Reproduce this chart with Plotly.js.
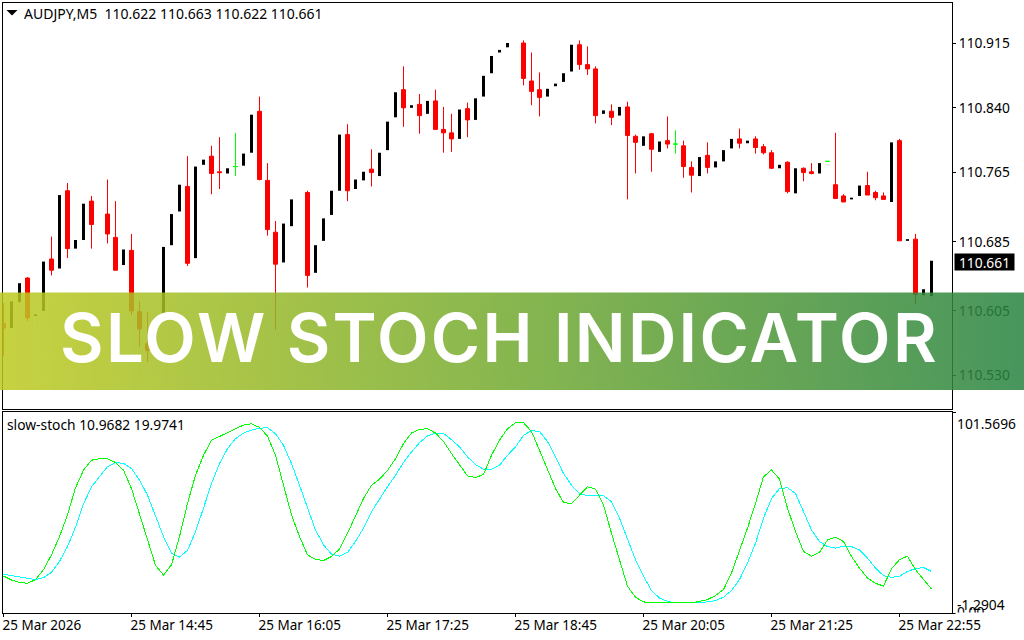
<!DOCTYPE html>
<html>
<head>
<meta charset="utf-8">
<script src="https://cdn.plot.ly/plotly-3.0.1.min.js"></script>
<style>
html,body{margin:0;padding:0;background:#fff;overflow:hidden}#c{width:1024px;height:640px}
.scatterlayer path.js-line{shape-rendering:crispEdges}
.annotation[data-index="7"] text{letter-spacing:2.3px}
</style>
</head>
<body>
<div id="c"></div>
<script>
// candle values, one per 5 minute bar (null = no visible bar)
const open = [110.590,110.585,110.615,110.643,110.599,110.605,110.665,110.654,110.744,110.677,
110.687,110.732,null,110.717,110.690,110.658,110.675,110.604,110.567,110.563,
110.601,110.681,110.720,110.749,110.666,110.774,110.784,110.766,110.764,110.772,
110.773,110.788,110.836,110.756,110.696,110.661,110.703,null,110.742,110.649,
110.686,110.716,110.744,110.809,110.746,110.756,110.769,110.761,110.791,110.829,
110.861,110.840,110.844,110.833,110.848,110.815,110.811,110.804,110.839,110.826,
110.853,110.880,110.904,110.910,null,110.915,110.871,110.861,110.853,110.865,
110.870,110.882,110.913,110.890,110.885,110.833,110.836,110.831,110.841,110.807,
110.796,110.810,110.789,110.802,110.798,110.796,110.771,110.761,110.785,110.771,
110.778,110.793,110.804,110.799,110.804,110.795,110.788,110.770,110.777,110.741,
110.770,110.766,110.764,110.778,110.751,110.738,110.734,110.738,110.750,110.742,
110.738,110.731,110.802,110.686,110.688,110.623,110.622];
const high = [110.614,110.616,110.637,110.644,110.601,110.662,110.691,110.739,110.753,110.687,
110.729,110.738,null,110.757,110.732,110.676,110.694,110.616,110.604,110.584,
110.679,110.717,110.751,110.784,110.772,110.780,110.796,110.806,110.770,110.811,
110.787,110.832,110.853,110.776,110.709,110.706,110.734,null,110.744,110.681,
110.712,110.744,110.809,110.821,110.757,110.766,110.792,110.788,110.824,110.858,
110.888,110.843,110.856,110.848,110.861,110.841,110.833,110.838,110.846,110.851,
110.877,110.900,110.907,110.915,null,110.918,110.904,110.881,110.862,110.868,
110.880,110.913,110.918,110.911,110.888,110.837,110.844,110.841,110.847,110.809,
110.807,110.811,110.801,110.830,110.814,110.802,110.778,110.783,110.800,110.778,
110.791,110.804,110.816,110.802,110.807,110.798,110.791,110.774,110.778,110.770,
110.771,110.776,110.776,110.778,110.811,110.740,110.736,110.750,110.766,110.744,
110.742,110.800,110.804,110.688,110.694,110.630,110.663];
const low = [110.553,110.585,110.615,110.593,110.599,110.605,110.646,110.654,110.666,110.677,
110.687,110.677,null,110.683,110.652,110.658,110.600,110.564,110.546,110.563,
110.601,110.681,110.720,110.657,110.666,110.774,110.740,110.746,110.764,110.761,
110.773,110.788,110.756,110.692,110.583,110.661,110.703,null,110.632,110.649,
110.686,110.716,110.744,110.732,110.746,110.756,110.749,110.761,110.791,110.829,
110.818,110.840,110.810,110.833,110.815,110.788,110.789,110.804,110.806,110.826,
110.853,110.880,110.904,110.910,null,110.866,110.843,110.830,110.853,110.865,
110.870,110.882,110.884,110.878,110.822,110.833,110.820,110.831,110.734,110.764,
110.796,110.766,110.789,110.793,110.787,110.759,110.742,110.761,110.764,110.771,
110.778,110.793,110.793,110.799,110.787,110.786,110.769,110.770,110.741,110.741,
110.755,110.763,110.764,110.778,110.735,110.731,110.734,110.738,110.739,110.733,
110.734,110.731,110.686,110.686,110.613,110.623,110.622];
const close = [110.585,110.616,110.637,110.597,110.601,110.662,110.652,110.739,110.677,110.687,
110.729,110.705,null,110.694,110.652,110.676,110.605,110.584,110.559,110.584,
110.679,110.717,110.751,110.660,110.772,110.780,110.764,110.765,110.770,110.772,
110.787,110.832,110.757,110.699,110.659,110.706,110.734,null,110.646,110.681,
110.712,110.744,110.809,110.744,110.757,110.766,110.765,110.788,110.824,110.858,
110.840,110.843,110.831,110.848,110.815,110.811,110.804,110.838,110.826,110.851,
110.877,110.900,110.907,110.915,null,110.874,110.859,110.852,110.862,110.868,
110.880,110.913,110.890,110.885,110.831,110.837,110.829,110.841,110.808,110.800,
110.807,110.792,110.801,110.798,110.798,110.772,110.762,110.783,110.771,110.778,
110.791,110.804,110.799,110.802,110.794,110.788,110.770,110.774,110.743,110.770,
110.765,110.764,110.776,110.778,110.735,110.731,110.736,110.750,110.739,110.736,
110.734,110.800,110.686,110.688,110.624,110.630,110.661];
const stochMain = [17.6,15.6,14.4,13.9,15.8,20.9,28.5,37.8,48.9,62.8,71.8,76.9,77.7,77.7,75.7,71.8,62.4,48.9,35.3,23.1,
18.1,23.4,37.8,54.8,69.2,79.4,87.1,89.1,91.0,92.8,94.9,95.5,93.7,89.3,79.4,64.1,48.9,37.8,28.5,26.1,
25.6,27.6,31.5,39.5,48.4,57.3,64.1,67.2,71.6,77.7,85.4,90.8,92.7,93.0,90.8,86.5,80.3,74.3,68.9,68.0,
69.6,79.4,87.1,93.0,96.1,96.1,91.6,82.0,71.8,62.4,55.3,54.6,59.0,63.3,62.1,54.0,39.5,26.0,12.4,6.8,
4.4,3.9,3.9,3.9,3.9,3.9,3.9,4.6,5.6,7.6,10.7,19.2,30.2,42.1,54.8,68.4,71.9,67.2,52.3,40.4,
30.2,27.8,29.7,36.1,37.5,35.3,27.6,21.7,16.6,13.9,12.5,21.4,26.0,27.8,20.9,15.8,10.9682];
const stochSignal = [18.5,17.8,17.1,16.3,15.8,16.8,19.5,25.1,32.7,42.6,54.5,63.3,68.4,73.6,75.7,75.3,72.6,66.7,59.0,48.9,
37.8,29.3,27.3,30.7,40.4,52.3,65.0,75.2,82.8,87.9,90.8,92.3,93.3,93.5,90.5,84.5,75.2,64.1,52.3,41.2,
33.6,28.8,27.8,29.7,35.3,42.1,50.6,57.3,63.3,69.2,75.7,81.1,85.9,89.3,90.8,90.6,87.4,83.7,78.6,74.7,
72.3,72.3,74.3,79.4,83.7,89.6,92.0,91.6,86.5,78.6,70.1,64.1,59.9,58.7,59.0,58.7,55.7,47.2,37.0,26.0,
17.5,10.2,6.4,4.7,3.9,3.9,3.9,4.0,4.4,5.1,6.8,10.2,15.8,24.3,34.4,47.2,57.3,62.4,62.8,59.9,
50.6,41.2,35.3,32.7,31.9,32.9,32.7,31.0,26.8,21.7,17.8,17.0,17.5,20.0,21.4,22.0,19.9741];
const xTickBars = [0,16,32,48,64,80,96,112];
const xTickLabels = ['25 Mar 2026','25 Mar 14:45','25 Mar 16:05','25 Mar 17:25','25 Mar 18:45','25 Mar 20:05','25 Mar 21:25','25 Mar 22:55'];
const priceTicks = [110.915,110.840,110.765,110.685,110.605,110.530];
const priceTickLabels = ['110.915','110.840','110.765','110.685','110.605','110.530'];
const stochMax = 101.5696, stochMin = -1.2904;
const lastPrice = '110.661';
const headerText = 'AUDJPY,M5\u00a0\u00a0110.622 110.663 110.622 110.661';
const stochText = 'slow-stoch 10.9682 19.9741';
const bannerText = 'SLOW STOCH INDICATOR';
const bannerStops = ['rgb(190,202,32)','rgb(115,170,49)','rgb(40,132,65)'];

const bars = open.map((_, i) => i);
const pick = test => bars.filter(i => open[i] !== null && test(i));
const upBars = pick(i => close[i] > open[i]);
const downBars = pick(i => close[i] < open[i]);
const flatBars = pick(i => close[i] === open[i]);
const candle = (idx, color) => ({
  type: 'candlestick', xaxis: 'x', yaxis: 'y', hoverinfo: 'skip', showlegend: false,
  x: idx, open: idx.map(i => open[i]), high: idx.map(i => high[i]), low: idx.map(i => low[i]), close: idx.map(i => close[i]),
  increasing: {line: {color, width: 1}, fillcolor: color},
  decreasing: {line: {color, width: 1}, fillcolor: color}
});
const traces = [
  {type: 'bar', xaxis: 'x', yaxis: 'y', x: upBars, base: upBars.map(i => low[i]), y: upBars.map(i => high[i] - low[i]),
   width: 0.375, marker: {color: '#000000', line: {width: 0}}, hoverinfo: 'skip', showlegend: false},
  candle(downBars, '#ff0000'),
  candle(flatBars, '#00ff00'),
  {type: 'scatter', mode: 'lines', xaxis: 'x2', yaxis: 'y2', x: bars, y: stochSignal, line: {color: '#00ffff', width: 1}, hoverinfo: 'skip', showlegend: false},
  {type: 'scatter', mode: 'lines', xaxis: 'x2', yaxis: 'y2', x: bars, y: stochMain, line: {color: '#00ff00', width: 1}, hoverinfo: 'skip', showlegend: false}
];

const W = 1024, H = 640;
const px = v => v / W, py = v => 1 - v / H;
const uiFont = '"Noto Sans", Tahoma, sans-serif';
const note = (text, x, y, extra) => Object.assign({
  text, xref: 'paper', yref: 'paper', x: px(x), y: py(y), xanchor: 'left', yanchor: 'middle',
  showarrow: false, font: {family: uiFont, size: 13.8, color: '#000'}
}, extra || {});

// banner gradient
const cv = document.createElement('canvas'); cv.width = 1024; cv.height = 4;
const g = cv.getContext('2d');
const lg = g.createLinearGradient(0, 0, 1024, 0);
bannerStops.forEach((c, i) => lg.addColorStop(i / (bannerStops.length - 1), c));
g.fillStyle = lg; g.fillRect(0, 0, 1024, 4);

const axisBase = {showline: true, linecolor: '#000', linewidth: 1, mirror: true, showgrid: false, zeroline: false};
const xRange = [-0.0625, 118.5625];
const layout = {
  width: W, height: H, margin: {l: 0, r: 0, t: 0, b: 0, pad: 0},
  paper_bgcolor: '#fff', plot_bgcolor: '#fff', showlegend: false,
  boxmode: 'overlay', boxgap: 0.5, boxgroupgap: 0, barmode: 'overlay',
  font: {family: uiFont, size: 13.8, color: '#000'},
  xaxis: Object.assign({}, axisBase, {domain: [px(3), px(952)], range: xRange, type: 'linear', anchor: 'y',
    showticklabels: false, ticks: '', rangeslider: {visible: false}}),
  yaxis: Object.assign({}, axisBase, {domain: [py(409), py(3)], range: [110.915 - 366 / 864, 110.915 + 40 / 864], anchor: 'x', side: 'right',
    tickmode: 'array', tickvals: priceTicks, ticktext: priceTickLabels, ticks: 'outside', ticklen: 3, tickcolor: '#000', tickwidth: 1, ticklabelstandoff: 0}),
  xaxis2: Object.assign({}, axisBase, {domain: [px(3), px(952)], range: xRange, type: 'linear', anchor: 'y2',
    tickmode: 'array', tickvals: xTickBars, ticktext: xTickLabels, ticks: 'outside', ticklen: 3, tickcolor: '#000', tickwidth: 1,
    ticklabelposition: 'outside right', ticklabelshift: -2, tickfont: {size: 13.5}}),
  yaxis2: Object.assign({}, axisBase, {domain: [py(613), py(412)], range: [stochMin, stochMax], anchor: 'x2', side: 'right',
    tickmode: 'array', tickvals: [stochMax, stochMin], ticks: 'outside', ticklen: 3, tickcolor: '#000', tickwidth: 1, showticklabels: false}),
  images: [{source: cv.toDataURL('image/png'), xref: 'paper', yref: 'paper', x: 0, y: py(292.5), sizex: 1, sizey: 97.5 / H,
    sizing: 'stretch', xanchor: 'left', yanchor: 'top', layer: 'above', opacity: 0.85}],
  shapes: [{type: 'path', xref: 'paper', yref: 'paper', layer: 'above', fillcolor: '#000', line: {width: 0},
    path: `M ${px(6.5)} ${py(10)} L ${px(17.5)} ${py(10)} L ${px(12)} ${py(15.5)} Z`}],
  annotations: [
    note(headerText, 22, 14, {font: {family: uiFont, size: 14, color: '#000'}}),
    note(stochText, 5, 424),
    note(lastPrice, 954, 262, {bgcolor: '#000', font: {family: uiFont, size: 13.8, color: '#fff'}, width: 59, height: 16, align: 'center', borderpad: 0}),
    note(String(stochMax), 955, 423),
    note(String(stochMin), 955, 604),
    note('0.00', 955, 611),
    note('\u00a0', 955, 616, {bgcolor: '#fff', width: 40, height: 6, borderpad: 0, font: {family: uiFont, size: 4, color: '#fff'}}),
    note(bannerText, 499.5, 337.5, {xanchor: 'center', font: {family: 'Inter, sans-serif', size: 67, color: '#fff', weight: 600}})
  ]
};
Plotly.newPlot('c', traces, layout, {staticPlot: true, displayModeBar: false});
</script>
</body>
</html>
